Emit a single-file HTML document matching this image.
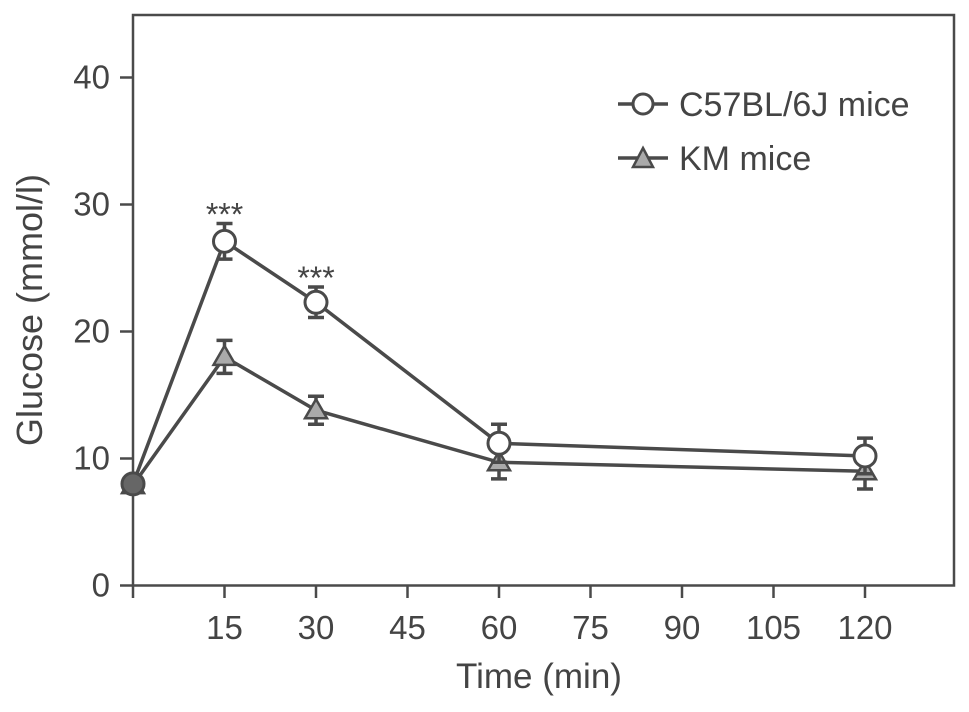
<!DOCTYPE html>
<html><head><meta charset="utf-8"><style>
body{margin:0;background:#fff}
svg text{font-family:"Liberation Sans",sans-serif;fill:#444}
</style></head><body>
<svg id="chart" width="969" height="707" viewBox="0 0 969 707">
<g id="axes"></g><g id="plot"></g>
</svg>
<script>
const timePoints=[0,15,30,60,120];
const c57Values=[8.0,27.1,22.3,11.2,10.2];
const c57Errors=[0.5,1.4,1.2,1.5,1.4];
const kmValues=[7.9,18.0,13.8,9.7,9.0];
const kmErrors=[0.5,1.3,1.1,1.3,1.4];
const yTicks=[0,10,20,30,40];
const xTicks=[15,30,45,60,75,90,105,120];
const sigTimes=[15,30];
const sigLabels=["***","***"];

const NS="http://www.w3.org/2000/svg";
const axes=document.getElementById('axes'),plot=document.getElementById('plot');
const x=v=>133+v*(865-133)/120;
const y=v=>585.5-v*12.7;
const C='#4a4a4a';
function mk(p,t,a){const e=document.createElementNS(NS,t);for(const k in a)e.setAttribute(k,a[k]);p.appendChild(e);return e;}
let e=mk(axes,'path',{d:'M133 15 H954 V585.5 H133 Z',fill:'none',stroke:C,'stroke-width':2.5});

mk(axes,'line',{x1:133,y1:585.5,x2:133,y2:598,stroke:C,'stroke-width':2.5});
yTicks.forEach(t=>{
  const l=mk(axes,'line',{x1:120,x2:133,y1:y(t),y2:y(t),stroke:C,'stroke-width':2.5});
  
  const tx=mk(axes,'text',{x:110,y:y(t)+11,'text-anchor':'end','font-size':33});tx.textContent=t;
  
});
xTicks.forEach(t=>{
  const l=mk(axes,'line',{x1:x(t),x2:x(t),y1:585.5,y2:598,stroke:C,'stroke-width':2.5});
  
  const tx=mk(axes,'text',{x:x(t),y:639,'text-anchor':'middle','font-size':33});tx.textContent=t;
  
});
let xt=mk(axes,'text',{x:539,y:688,'text-anchor':'middle','font-size':35});xt.textContent='Time (min)';

let yt=mk(axes,'text',{x:42,y:310,'text-anchor':'middle','font-size':36,transform:'rotate(-90 42 310)'});yt.textContent='Glucose (mmol/l)';


function series(vals,errs,kind,name){
  const g=mk(plot,'g',{});
  
  mk(g,'polyline',{points:timePoints.map((t,i)=>x(t)+','+y(vals[i])).join(' '),fill:'none',stroke:C,'stroke-width':3.5});
  timePoints.forEach((t,i)=>{
    const cx=x(t),hi=y(vals[i]+errs[i]),lo=y(vals[i]-errs[i]);
    const eb=mk(g,'path',{d:`M${cx} ${hi}V${lo}M${cx-8} ${hi}H${cx+8}M${cx-8} ${lo}H${cx+8}`,stroke:C,'stroke-width':3.5,fill:'none'});
    
    let m;
    if(kind==='circle')m=mk(g,'circle',{cx:cx,cy:y(vals[i]),r:11,fill:i===0?'#666':'#fff',stroke:C,'stroke-width':3});
    else{const cy=y(vals[i]);m=mk(g,'polygon',{points:`${cx},${cy-11} ${cx+11},${cy+8} ${cx-11},${cy+8}`,fill:'#aaa',stroke:C,'stroke-width':2.5});}
    
  });
}
series(kmValues,kmErrors,'tri','km');
series(c57Values,c57Errors,'circle','c57');
sigTimes.forEach((t,i)=>{
  const idx=timePoints.indexOf(t);
  const s=mk(plot,'text',{x:x(t),y:y(c57Values[idx]+c57Errors[idx])+2,'text-anchor':'middle','font-size':32});s.textContent=sigLabels[i];
  
});
const lg=mk(plot,'g',{});
mk(lg,'line',{x1:618,x2:668,y1:104,y2:104,stroke:C,'stroke-width':3.5});
mk(lg,'circle',{cx:643,cy:104,r:10,fill:'#fff',stroke:C,'stroke-width':3});
let t1=mk(lg,'text',{x:679,y:116,'font-size':34});t1.textContent='C57BL/6J mice';

mk(lg,'line',{x1:618,x2:668,y1:158,y2:158,stroke:C,'stroke-width':3.5});
mk(lg,'polygon',{points:'643,148 653,167 633,167',fill:'#aaa',stroke:C,'stroke-width':2.5});
let t2=mk(lg,'text',{x:679,y:170,'font-size':34});t2.textContent='KM mice';

</script>
</body></html>
